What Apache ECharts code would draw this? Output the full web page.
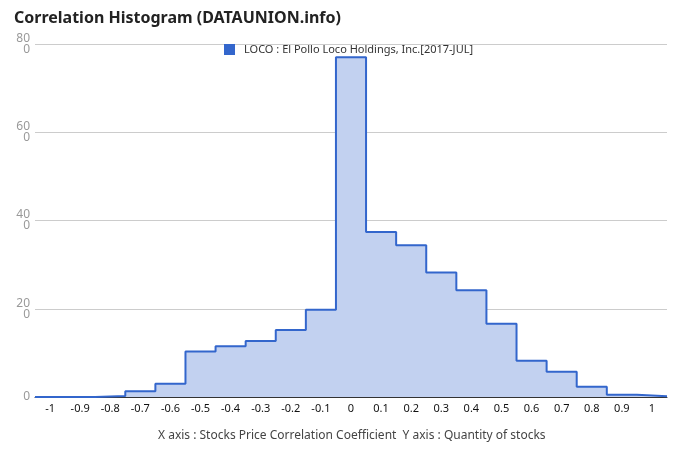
<!DOCTYPE html>
<html>
<head>
<meta charset="utf-8">
<script src="https://cdn.jsdelivr.net/npm/echarts@6/dist/echarts.min.js"></script>
<style>html,body{margin:0;padding:0;background:#fff;}#c{width:680px;height:462px;}</style>
</head>
<body>
<div id="c"></div>
<script>
var categories = ['-1','-0.9','-0.8','-0.7','-0.6','-0.5','-0.4','-0.3','-0.2','-0.1','0','0.1','0.2','0.3','0.4','0.5','0.6','0.7','0.8','0.9','1'];
var binCenters = [-1,-0.9,-0.8,-0.7,-0.6,-0.5,-0.4,-0.3,-0.2,-0.1,0,0.1,0.2,0.3,0.4,0.5,0.6,0.7,0.8,0.9,1];
var counts = [0,0,0.2,1.3,3,10.3,11.5,12.7,15.2,19.8,77,37.4,34.4,28.2,24.2,16.6,8.2,5.7,2.3,0.5,0.15];
var yTicks = [0,20,40,60,80];
var yTickLabels = ['0','20\n0','40\n0','60\n0','80\n0'];
var seriesName = 'LOCO : El Pollo Loco Holdings, Inc.[2017-JUL]';

var half = 0.05;
var stepData = binCenters.map(function(c,i){ return [+(c-half).toFixed(2), counts[i]]; });
stepData.push([+(binCenters[binCenters.length-1]+half).toFixed(2), counts[counts.length-1]]);

var chart = echarts.init(document.getElementById('c'));
chart.setOption({
  animation: false,
  title: {
    text: 'Correlation Histogram (DATAUNION.info)',
    left: 9, top: 5,
    textStyle: {fontFamily: 'Noto Sans', fontWeight: 'bold', fontSize: 16, color: '#222'}
  },
  legend: {
    data: [{name: seriesName, icon: 'rect'}],
    left: 219, top: 39,
    itemWidth: 11, itemHeight: 11,
    itemGap: 0,
    textStyle: {fontFamily: 'Noto Sans', fontSize: 11, color: '#333', padding: [0,0,0,4]}
  },
  graphic: [{
    type: 'text', left: 158, top: 430,
    style: {text: 'X axis : Stocks Price Correlation Coefficient  Y axis : Quantity of stocks', fontFamily: 'Noto Sans', fontSize: 12, fill: '#444'}
  }],
  grid: {left: 35, right: 13, top: 44, bottom: 65},
  xAxis: [{
    type: 'category', data: categories, boundaryGap: true,
    axisLine: {lineStyle: {color: '#333', width: 1}},
    axisTick: {show: false},
    axisLabel: {fontFamily: 'Noto Sans', fontSize: 11, color: '#111', margin: 6, interval: 0}
  }, {
    type: 'value', min: -1.05, max: 1.05, show: false
  }],
  yAxis: {
    type: 'value', min: 0, max: 80, interval: 20,
    axisLine: {show: false}, axisTick: {show: false},
    splitLine: {lineStyle: {color: '#ccc'}},
    axisLabel: {
      fontFamily: 'Noto Sans', fontSize: 12, color: '#999', margin: 5, lineHeight: 11,
      formatter: function(v){ var i = yTicks.indexOf(v); return i >= 0 ? yTickLabels[i] : ''; }
    }
  },
  series: [{
    name: seriesName, type: 'line', xAxisIndex: 1, step: 'end',
    data: stepData, symbol: 'none',
    lineStyle: {color: '#3366cc', width: 2},
    itemStyle: {color: '#3366cc'},
    areaStyle: {color: '#c2d1f0', opacity: 1, origin: 'start'}
  }]
});
</script>
</body>
</html>
